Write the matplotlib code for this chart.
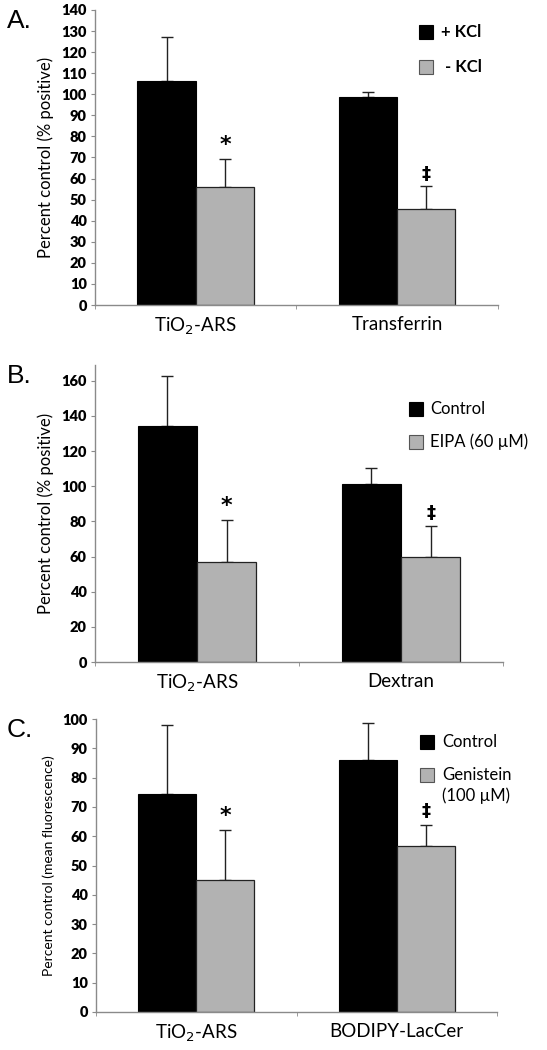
import matplotlib
matplotlib.use("Agg")
import matplotlib.pyplot as plt
import numpy as np
from matplotlib.patches import Rectangle

# ---- data ----
cats_a = ["TiO$_2$-ARS", "Transferrin"]
a_black = [106.5, 98.5]
a_black_err = [20.5, 2.5]
a_gray = [56.0, 45.5]
a_gray_err = [13.5, 11.0]
a_marks = ["*", "\u2021"]
a_legend = ["+ KCl", " - KCl"]
a_yticks = list(range(0, 141, 10))

cats_b = ["TiO$_2$-ARS", "Dextran"]
b_black = [134.0, 101.5]
b_black_err = [29.0, 9.0]
b_gray = [57.0, 59.5]
b_gray_err = [24.0, 18.0]
b_marks = ["*", "\u2021"]
b_legend = ["Control", "EIPA (60 \u00b5M)"]
b_yticks = list(range(0, 161, 20))

cats_c = ["TiO$_2$-ARS", "BODIPY-LacCer"]
c_black = [74.5, 86.0]
c_black_err = [23.5, 12.5]
c_gray = [45.0, 56.5]
c_gray_err = [17.0, 7.5]
c_marks = ["*", "\u2021"]
c_legend = ["Control", "Genistein\n(100 \u00b5M)"]
c_yticks = list(range(0, 101, 10))

GRAY = "#b2b2b2"
AXC = "#8a8a8a"
FONT = "Lato"
W, H = 547, 1050

fig = plt.figure(figsize=(W / 100, H / 100), dpi=100)


def fx(px):
    return px / W


def fy(py):
    return 1 - py / H


def legend(entries, colors, sq_x, centers, size, bold, text_x):
    s = 14
    for lab, col, cy in zip(entries, colors, centers):
        fig.add_artist(Rectangle((fx(sq_x), fy(cy + s / 2)), s / W, s / H,
                                 transform=fig.transFigure, facecolor=col,
                                 edgecolor="black" if col == "black" else "#555555",
                                 linewidth=0.8))
        lines = lab.split("\n")
        for i, ln in enumerate(lines):
            fig.text(fx(text_x), fy(cy + i * 21), ln, fontsize=size, family=FONT,
                     fontweight="bold" if bold else "normal", va="center", ha="left")


def panel(rect, cats, black, berr, gray, gerr, marks, yticks, ymax,
          ylabel, ylsize, letter, mark_off):
    ax = fig.add_axes(rect)
    x = np.arange(len(cats))
    w = 0.29
    ax.bar(x - w / 2, black, w, color="black", edgecolor="black", linewidth=0.8, zorder=2)
    ax.bar(x + w / 2, gray, w, color=GRAY, edgecolor="#222222", linewidth=0.9, zorder=2)
    ax.errorbar(x - w / 2, black, yerr=[np.zeros(len(x)), berr], fmt="none",
                ecolor="#222222", elinewidth=1.0, capsize=4, capthick=1.0, zorder=1)
    ax.errorbar(x + w / 2, gray, yerr=[np.zeros(len(x)), gerr], fmt="none",
                ecolor="#222222", elinewidth=1.0, capsize=4, capthick=1.0, zorder=1)
    for xi, g, e, m in zip(x, gray, gerr, marks):
        ax.text(xi + w / 2, g + e + mark_off, m, ha="center", va="bottom",
                fontsize=16 if m == "*" else 13, fontweight="bold",
                family=["DejaVu Sans"])
    ax.set_xlim(-0.5, 1.5)
    ax.set_ylim(0, ymax)
    ax.set_yticks(yticks)
    ax.set_yticklabels([str(t) for t in yticks], fontsize=10.5, fontweight="heavy", family=FONT)
    ax.set_xticks(x)
    ax.set_xticklabels(cats, fontsize=13.5, family=FONT)
    ax.tick_params(axis="x", length=0, pad=8)
    ax.set_xticks([-0.5, 0.5, 1.5], minor=True)
    ax.tick_params(axis="x", which="minor", length=3, color=AXC, direction="out")
    ax.tick_params(axis="y", length=3, color=AXC, direction="out", pad=3)
    for s in ["top", "right"]:
        ax.spines[s].set_visible(False)
    for s in ["left", "bottom"]:
        ax.spines[s].set_color(AXC)
        ax.spines[s].set_linewidth(1.0)
    ax.set_ylabel(ylabel, fontsize=ylsize, family=FONT, labelpad=5)
    fig.text(0.012, rect[1] + rect[3] + 0.001, letter, fontsize=19,
             family="Liberation Sans", va="top", ha="left")
    return ax


panel([0.1737, 0.7095, 0.7363, 0.2810], cats_a, a_black, a_black_err, a_gray,
      a_gray_err, a_marks, a_yticks, 140,
      "Percent control (% positive)", 12, "A.", 1.5)
legend(a_legend, ["black", GRAY], 419, [32, 67], 12, True, 441)

panel([0.1737, 0.3695, 0.7459, 0.2829], cats_b, b_black, b_black_err, b_gray,
      b_gray_err, b_marks, b_yticks, 169,
      "Percent control (% positive)", 12, "B.", 2.0)
legend(b_legend, ["black", GRAY], 409, [409, 442], 12, False, 430)

panel([0.1755, 0.0362, 0.7331, 0.2790], cats_c, c_black, c_black_err, c_gray,
      c_gray_err, c_marks, c_yticks, 100,
      "Percent control (mean fluorescence)", 10, "C.", 1.5)
legend(c_legend, ["black", GRAY], 420, [742, 775], 12, False, 442)

fig.savefig("out.png", dpi=100)
